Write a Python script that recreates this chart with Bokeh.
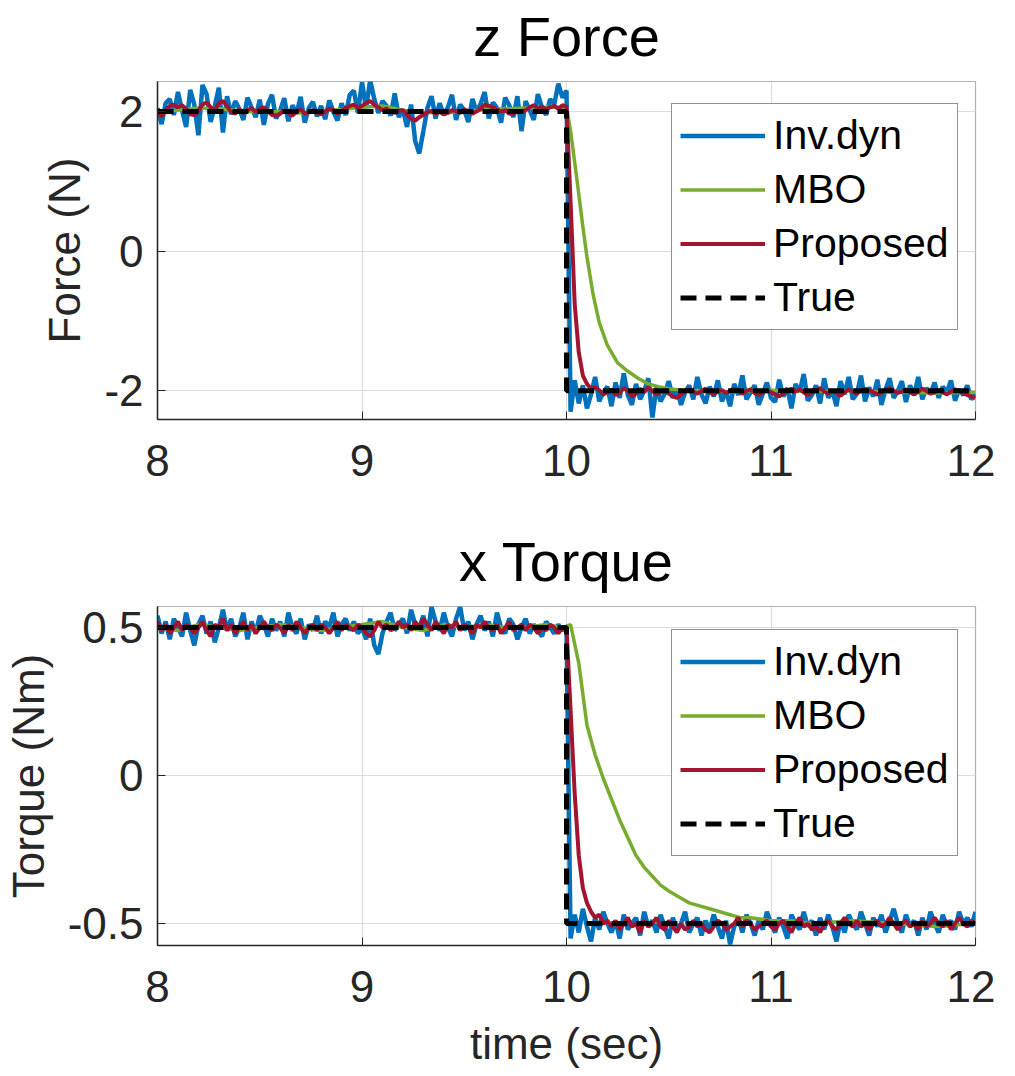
import numpy as np
from bokeh.plotting import figure
from bokeh.layouts import column
from bokeh.models import FixedTicker, Legend, LegendItem, Range1d
from bokeh.embed import file_html
from bokeh.resources import INLINE

# ---------------- data ----------------
time_fine = np.linspace(8.0, 12.0, 201)   # 0.02 s sampling

true_t = [8.0, 10.0, 10.0, 12.0]
force_true = [2.0, 2.0, -2.0, -2.0]
torque_true = [0.5, 0.5, -0.5, -0.5]

force_invdyn = [
    2.05, 1.82, 2.12, 2.18, 1.95, 2.28, 2.02, 1.78, 2.31, 2.10,
    1.66, 2.38, 2.25, 1.85, 2.08, 2.34, 1.70, 2.22, 1.96, 2.15,
    2.04, 1.88, 2.20, 2.06, 1.92, 2.17, 1.81, 2.11, 2.24, 1.90,
    2.02, 2.19, 1.86, 2.09, 1.97, 2.21, 1.84, 2.05, 2.14, 1.93,
    2.08, 1.89, 2.16, 2.00, 1.87, 2.12, 1.95, 2.24, 2.30, 1.98,
    2.42, 2.05, 2.45, 2.18, 1.98, 2.15, 2.08, 1.94, 2.26, 1.92,
    2.03, 1.78, 2.10, 1.58, 1.40, 1.72, 2.05, 2.22, 1.90, 2.12,
    1.95, 2.06, 2.24, 1.88, 2.10, 2.02, 1.85, 2.18, 2.00, 2.11,
    2.28, 1.90, 2.13, 2.05, 1.84, 2.20, 2.09, 1.92, 2.22, 1.72,
    2.15, 2.02, 1.88, 2.25, 2.06, 1.95, 2.18, 2.10, 2.40, 2.20,
    2.30,
    -2.30, -1.85, -2.18, -1.92, -2.25, -2.05, -1.80, -2.15, -2.02, -1.94,
    -2.22, -1.88, -2.10, -1.75, -2.06, -2.20, -1.90, -2.12, -2.00, -1.82,
    -2.38, -1.95, -2.15, -2.04, -1.86, -2.10, -1.98, -2.20, -2.02, -1.92,
    -2.12, -1.80, -2.05, -2.18, -1.94, -2.08, -1.85, -2.15, -2.00, -2.22,
    -1.90, -2.06, -1.78, -2.12, -2.02, -1.92, -2.20, -2.04, -1.88, -2.10,
    -2.16, -1.84, -2.08, -1.96, -2.25, -1.90, -2.02, -1.76, -2.14, -2.06,
    -1.92, -2.18, -1.82, -2.10, -2.00, -2.22, -1.86, -2.05, -1.80, -2.12,
    -2.04, -1.78, -2.15, -1.95, -2.08, -1.84, -2.20, -1.98, -1.82, -2.10,
    -2.00, -1.86, -2.16, -1.92, -2.06, -1.80, -2.12, -1.96, -2.04, -1.88,
    -2.10, -1.94, -2.02, -1.85, -2.14, -1.98, -2.06, -1.92, -2.12, -2.05,
]

force_proposed = [
    1.98, 1.93, 2.02, 2.08, 2.10, 2.06, 2.09, 2.04, 1.96, 1.95,
    2.01, 2.10, 2.13, 2.06, 2.02, 2.12, 2.15, 2.08, 1.99, 1.97,
    2.03, 1.98, 2.02, 2.05, 1.99, 2.04, 2.06, 2.01, 1.95, 1.94,
    1.97, 2.02, 1.98, 1.94, 2.00, 2.03, 1.97, 1.99, 2.02, 1.98,
    1.96, 2.00, 2.04, 2.02, 1.97, 2.01, 2.05, 2.08, 2.10, 2.05,
    2.08, 2.12, 2.15, 2.10, 2.06, 2.02, 2.04, 2.00, 1.98, 2.01,
    2.02, 1.96, 1.90, 1.87, 1.92, 1.95, 1.99, 2.01, 1.97, 2.00,
    1.96, 1.98, 2.02, 2.00, 1.98, 2.03, 2.01, 1.97, 2.00, 2.04,
    2.10, 2.08, 2.06, 2.03, 2.00, 2.02, 1.97, 1.96, 2.01, 1.99,
    2.02, 2.06, 2.09, 2.05, 2.07, 2.03, 2.06, 2.08, 2.04, 2.09,
    2.07,
    0.70, -0.75, -1.45, -1.78, -1.90, -1.97, -1.95, -1.99, -2.05, -2.02,
    -1.98, -2.06, -2.03, -1.96, -2.00, -2.08, -2.04, -1.97, -2.02, -1.95,
    -2.00, -2.05, -2.02, -1.99, -2.04, -2.08, -2.10, -2.05, -2.00, -1.98,
    -2.01, -2.04, -2.00, -1.97, -2.02, -2.05, -2.01, -1.99, -2.03, -2.00,
    -1.97, -2.01, -2.04, -2.00, -1.98, -2.03, -2.06, -2.02, -1.99, -2.02,
    -2.05, -2.08, -2.04, -2.00, -1.97, -2.01, -1.98, -2.02, -2.06, -2.03,
    -1.99, -1.96, -2.01, -2.04, -2.00, -2.03, -2.07, -2.02, -1.98, -2.01,
    -2.04, -2.00, -1.97, -1.99, -2.02, -2.05, -2.03, -1.98, -1.96, -2.00,
    -2.03, -2.01, -1.98, -2.02, -2.05, -2.01, -1.97, -2.00, -2.04, -2.02,
    -1.99, -2.02, -2.05, -2.01, -1.98, -2.00, -2.03, -2.06, -2.08, -2.10,
]

force_mbo_t = [8.0, 8.1, 8.2, 8.3, 8.4, 8.5, 8.6, 8.7, 8.8, 8.9, 9.0, 9.1, 9.2, 9.3,
               9.4, 9.5, 9.6, 9.7, 9.8, 9.9, 10.0, 10.02, 10.05, 10.08, 10.1, 10.13,
               10.16, 10.2, 10.25, 10.3, 10.35, 10.4, 10.45, 10.5, 10.6, 10.7, 10.8,
               10.9, 11.0, 11.2, 11.4, 11.6, 11.8, 12.0]
force_mbo = [2.00, 2.02, 2.05, 2.04, 2.01, 1.99, 2.00, 1.98, 2.01, 2.03, 2.06, 2.08,
             2.02, 1.99, 1.98, 2.00, 2.03, 2.04, 2.05, 2.06, 2.06, 1.72, 1.05, 0.35,
             -0.08, -0.62, -1.02, -1.35, -1.60, -1.72, -1.82, -1.90, -1.94, -1.97,
             -2.00, -1.99, -2.02, -2.00, -1.99, -2.01, -2.00, -2.02, -2.03, -2.02]

torque_invdyn = [
    0.54, 0.48, 0.52, 0.46, 0.53, 0.50, 0.47, 0.55, 0.49, 0.44,
    0.51, 0.54, 0.48, 0.52, 0.45, 0.50, 0.56, 0.49, 0.53, 0.47,
    0.50, 0.55, 0.46, 0.52, 0.48, 0.54, 0.51, 0.47, 0.53, 0.49,
    0.52, 0.47, 0.55, 0.50, 0.48, 0.53, 0.46, 0.51, 0.49, 0.54,
    0.48, 0.52, 0.50, 0.55, 0.47, 0.51, 0.53, 0.49, 0.52, 0.48,
    0.50, 0.46, 0.53, 0.44, 0.41, 0.48, 0.52, 0.55, 0.49, 0.51,
    0.53, 0.48, 0.56, 0.51, 0.50, 0.54, 0.47, 0.57, 0.52, 0.49,
    0.55, 0.50, 0.47, 0.53, 0.57, 0.49, 0.52, 0.46, 0.51, 0.54,
    0.49, 0.52, 0.47, 0.55, 0.50, 0.48, 0.53, 0.51, 0.46, 0.50,
    0.53, 0.48, 0.51, 0.49, 0.47, 0.52, 0.50, 0.48, 0.51, 0.49,
    0.50,
    -0.55, -0.47, -0.53, -0.45, -0.51, -0.56, -0.48, -0.52, -0.46, -0.50,
    -0.53, -0.49, -0.55, -0.47, -0.52, -0.50, -0.48, -0.54, -0.46, -0.51,
    -0.49, -0.53, -0.47, -0.51, -0.55, -0.48, -0.52, -0.50, -0.46, -0.53,
    -0.50, -0.48, -0.54, -0.49, -0.52, -0.47, -0.51, -0.55, -0.49, -0.57,
    -0.51, -0.48, -0.53, -0.47, -0.50, -0.54, -0.49, -0.52, -0.46, -0.50,
    -0.53, -0.48, -0.51, -0.55, -0.47, -0.50, -0.52, -0.46, -0.51, -0.49,
    -0.54, -0.48, -0.52, -0.47, -0.51, -0.56, -0.49, -0.53, -0.47, -0.50,
    -0.52, -0.46, -0.50, -0.54, -0.48, -0.51, -0.47, -0.53, -0.49, -0.45,
    -0.50, -0.53, -0.47, -0.51, -0.49, -0.54, -0.48, -0.52, -0.46, -0.50,
    -0.53, -0.47, -0.51, -0.49, -0.52, -0.46, -0.50, -0.48, -0.51, -0.46,
]

torque_proposed = [
    0.52, 0.49, 0.51, 0.48, 0.50, 0.52, 0.49, 0.51, 0.50, 0.48,
    0.50, 0.52, 0.49, 0.47, 0.51, 0.50, 0.53, 0.49, 0.51, 0.48,
    0.50, 0.52, 0.49, 0.51, 0.48, 0.50, 0.52, 0.50, 0.49, 0.51,
    0.50, 0.48, 0.51, 0.49, 0.52, 0.50, 0.48, 0.50, 0.51, 0.49,
    0.51, 0.50, 0.48, 0.50, 0.52, 0.49, 0.51, 0.50, 0.49, 0.51,
    0.50, 0.48, 0.47, 0.49, 0.52, 0.50, 0.51, 0.49, 0.50, 0.52,
    0.50, 0.51, 0.49, 0.52, 0.50, 0.53, 0.51, 0.49, 0.52, 0.50,
    0.48, 0.51, 0.50, 0.52, 0.49, 0.51, 0.50, 0.48, 0.51, 0.50,
    0.52, 0.50, 0.49, 0.51, 0.48, 0.50, 0.52, 0.49, 0.50, 0.51,
    0.49, 0.51, 0.50, 0.48, 0.50, 0.49, 0.51, 0.50, 0.48, 0.50,
    0.50,
    0.22, -0.06, -0.27, -0.38, -0.43, -0.46, -0.48, -0.47, -0.50, -0.49,
    -0.51, -0.49, -0.52, -0.50, -0.48, -0.51, -0.50, -0.53, -0.49, -0.51,
    -0.50, -0.48, -0.51, -0.52, -0.49, -0.51, -0.53, -0.50, -0.52, -0.51,
    -0.49, -0.51, -0.50, -0.52, -0.53, -0.51, -0.49, -0.50, -0.52, -0.51,
    -0.50, -0.48, -0.51, -0.49, -0.50, -0.52, -0.51, -0.50, -0.49, -0.51,
    -0.52, -0.50, -0.49, -0.51, -0.53, -0.50, -0.48, -0.51, -0.50, -0.52,
    -0.51, -0.53, -0.50, -0.49, -0.51, -0.52, -0.50, -0.48, -0.50, -0.51,
    -0.49, -0.51, -0.50, -0.52, -0.50, -0.49, -0.51, -0.50, -0.48, -0.50,
    -0.52, -0.50, -0.49, -0.51, -0.50, -0.52, -0.49, -0.51, -0.50, -0.48,
    -0.50, -0.51, -0.49, -0.52, -0.50, -0.48, -0.50, -0.51, -0.49, -0.50,
]

torque_mbo_t = [8.0, 8.1, 8.2, 8.3, 8.4, 8.5, 8.6, 8.7, 8.8, 8.9, 9.0, 9.1, 9.2, 9.3,
                9.4, 9.5, 9.6, 9.7, 9.8, 9.9, 9.98, 10.02, 10.06, 10.1, 10.14, 10.18,
                10.22, 10.26, 10.3, 10.34, 10.38, 10.42, 10.46, 10.5, 10.55, 10.6,
                10.65, 10.7, 10.75, 10.8, 10.85, 10.9, 11.0, 11.1, 11.2, 11.4, 11.6,
                11.8, 12.0]
torque_mbo = [0.50, 0.49, 0.51, 0.50, 0.49, 0.50, 0.51, 0.50, 0.49, 0.50, 0.51, 0.52,
              0.50, 0.49, 0.51, 0.50, 0.51, 0.50, 0.50, 0.51, 0.50, 0.51, 0.38, 0.17,
              0.07, -0.01, -0.08, -0.15, -0.21, -0.27, -0.31, -0.34, -0.37, -0.39,
              -0.41, -0.43, -0.44, -0.45, -0.46, -0.47, -0.48, -0.48, -0.49, -0.49,
              -0.50, -0.49, -0.50, -0.51, -0.50]

x_ticks = [8, 9, 10, 11, 12]
force_ticks = [-2, 0, 2]
torque_ticks = [-0.5, 0, 0.5]
legend_labels = ["Inv.dyn", "MBO", "Proposed", "True"]

# ---------------- style ----------------
C_BLUE = "#0072BD"
C_GREEN = "#77AC30"
C_RED = "#A2142F"
TXT = "#262626"
FONT = "Liberation Sans"


def make_panel(title, ylabel, yr, yticks, ylabels, inv, mbo_t, mbo, prop, truth,
               height, border_top, border_bottom, margin, xlabel=None):
    p = figure(width=995, height=height, output_backend="svg", toolbar_location=None,
               x_range=Range1d(8, 12), y_range=Range1d(*yr),
               min_border_left=150, min_border_right=20,
               min_border_top=border_top, min_border_bottom=border_bottom,
               margin=margin)
    p.title.text = title
    p.title.text_font = FONT
    p.title.text_font_size = "56px"
    p.title.text_font_style = "normal"
    p.title.text_color = "black"
    p.title.align = "center"
    p.title.standoff = 27

    r1 = p.line(time_fine, inv, line_color=C_BLUE, line_width=4.5)
    r2 = p.line(mbo_t, mbo, line_color=C_GREEN, line_width=3.5)
    r3 = p.line(time_fine, prop, line_color=C_RED, line_width=4)
    r4 = p.line(true_t, truth, line_color="black", line_width=5, line_dash="16 9")

    for ax in (p.xaxis, p.yaxis):
        ax.major_label_text_font = FONT
        ax.major_label_text_font_size = "44px"
        ax.major_label_text_color = TXT
        ax.axis_line_color = TXT
        ax.axis_line_width = 1.5
        ax.major_tick_line_color = TXT
        ax.major_tick_in = 8
        ax.major_tick_out = 0
        ax.minor_tick_line_color = None
        ax.axis_label_text_font = FONT
        ax.axis_label_text_font_size = "44px"
        ax.axis_label_text_font_style = "normal"
        ax.axis_label_text_color = TXT

    p.xaxis.ticker = FixedTicker(ticks=x_ticks)
    p.yaxis.ticker = FixedTicker(ticks=yticks)
    p.xaxis.major_label_overrides = {t: str(t) for t in x_ticks}
    p.yaxis.major_label_overrides = dict(zip(yticks, ylabels))
    p.xaxis.major_label_standoff = 25
    p.yaxis.major_label_standoff = 14
    p.yaxis.axis_label = ylabel
    p.yaxis.axis_label_standoff = 12
    if xlabel:
        p.xaxis.axis_label = xlabel
        p.xaxis.axis_label_standoff = 14

    p.grid.grid_line_color = "#dcdcdc"
    p.grid.grid_line_width = 1.2
    p.outline_line_color = "#b0b0b0"
    p.outline_line_width = 1.2
    p.background_fill_color = "white"
    p.border_fill_color = "white"

    legend = Legend(items=[LegendItem(label=legend_labels[0], renderers=[r1]),
                           LegendItem(label=legend_labels[1], renderers=[r2]),
                           LegendItem(label=legend_labels[2], renderers=[r3]),
                           LegendItem(label=legend_labels[3], renderers=[r4])],
                    location=(514, 89))
    legend.label_text_font = FONT
    legend.label_text_font_size = "41px"
    legend.label_text_color = "black"
    legend.glyph_width = 85
    legend.glyph_height = 47
    legend.label_height = 47
    legend.label_standoff = 8
    legend.spacing = 7
    legend.padding = 8
    legend.margin = 0
    legend.border_line_color = TXT
    legend.border_line_width = 1.5
    legend.background_fill_alpha = 1.0
    p.add_layout(legend)
    return p


p1 = make_panel("z Force", "Force (N)", (-2.41, 2.43), force_ticks, ["-2", "0", "2"],
                force_invdyn, force_mbo_t, force_mbo, force_proposed, force_true,
                height=521, border_top=91, border_bottom=91, margin=(-11, 0, 0, 0))
p2 = make_panel("x Torque", "Torque (Nm)", (-0.574, 0.571), torque_ticks, ["-0.5", "0", "0.5"],
                torque_invdyn, torque_mbo_t, torque_mbo, torque_proposed, torque_true,
                height=560, border_top=96, border_bottom=124, margin=(0, 0, 0, 0),
                xlabel="time (sec)")

layout = column(p1, p2, spacing=0)
open("out.html", "w").write(file_html(layout, INLINE))
